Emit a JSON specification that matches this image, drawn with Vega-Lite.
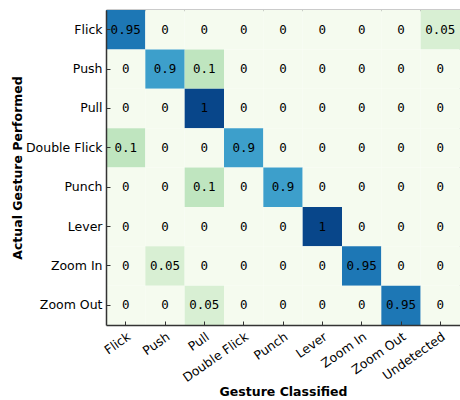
{
  "$schema": "https://vega.github.io/schema/vega-lite/v6.json",
  "width": 354,
  "height": 315,
  "autosize": "none",
  "padding": {"left": 106, "top": 10, "right": 0, "bottom": 75},
  "background": "white",
  "config": {
    "view": {"stroke": null},
    "font": "DejaVu Sans",
    "axis": {
      "labelFont": "DejaVu Sans",
      "labelFontSize": 12.5,
      "labelColor": "black",
      "titleFont": "DejaVu Sans",
      "titleFontSize": 12.5,
      "titleFontWeight": "bold",
      "titleColor": "black",
      "domainColor": "#333333",
      "domainWidth": 1.5,
      "tickColor": "#333333",
      "tickWidth": 1,
      "tickSize": -4,
      "grid": false
    }
  },
  "data": {"values": [
    {"actual": "Flick", "classified": "Flick", "value": 0.95},
    {"actual": "Flick", "classified": "Push", "value": 0},
    {"actual": "Flick", "classified": "Pull", "value": 0},
    {"actual": "Flick", "classified": "Double Flick", "value": 0},
    {"actual": "Flick", "classified": "Punch", "value": 0},
    {"actual": "Flick", "classified": "Lever", "value": 0},
    {"actual": "Flick", "classified": "Zoom In", "value": 0},
    {"actual": "Flick", "classified": "Zoom Out", "value": 0},
    {"actual": "Flick", "classified": "Undetected", "value": 0.05},
    {"actual": "Push", "classified": "Flick", "value": 0},
    {"actual": "Push", "classified": "Push", "value": 0.9},
    {"actual": "Push", "classified": "Pull", "value": 0.1},
    {"actual": "Push", "classified": "Double Flick", "value": 0},
    {"actual": "Push", "classified": "Punch", "value": 0},
    {"actual": "Push", "classified": "Lever", "value": 0},
    {"actual": "Push", "classified": "Zoom In", "value": 0},
    {"actual": "Push", "classified": "Zoom Out", "value": 0},
    {"actual": "Push", "classified": "Undetected", "value": 0},
    {"actual": "Pull", "classified": "Flick", "value": 0},
    {"actual": "Pull", "classified": "Push", "value": 0},
    {"actual": "Pull", "classified": "Pull", "value": 1},
    {"actual": "Pull", "classified": "Double Flick", "value": 0},
    {"actual": "Pull", "classified": "Punch", "value": 0},
    {"actual": "Pull", "classified": "Lever", "value": 0},
    {"actual": "Pull", "classified": "Zoom In", "value": 0},
    {"actual": "Pull", "classified": "Zoom Out", "value": 0},
    {"actual": "Pull", "classified": "Undetected", "value": 0},
    {"actual": "Double Flick", "classified": "Flick", "value": 0.1},
    {"actual": "Double Flick", "classified": "Push", "value": 0},
    {"actual": "Double Flick", "classified": "Pull", "value": 0},
    {"actual": "Double Flick", "classified": "Double Flick", "value": 0.9},
    {"actual": "Double Flick", "classified": "Punch", "value": 0},
    {"actual": "Double Flick", "classified": "Lever", "value": 0},
    {"actual": "Double Flick", "classified": "Zoom In", "value": 0},
    {"actual": "Double Flick", "classified": "Zoom Out", "value": 0},
    {"actual": "Double Flick", "classified": "Undetected", "value": 0},
    {"actual": "Punch", "classified": "Flick", "value": 0},
    {"actual": "Punch", "classified": "Push", "value": 0},
    {"actual": "Punch", "classified": "Pull", "value": 0.1},
    {"actual": "Punch", "classified": "Double Flick", "value": 0},
    {"actual": "Punch", "classified": "Punch", "value": 0.9},
    {"actual": "Punch", "classified": "Lever", "value": 0},
    {"actual": "Punch", "classified": "Zoom In", "value": 0},
    {"actual": "Punch", "classified": "Zoom Out", "value": 0},
    {"actual": "Punch", "classified": "Undetected", "value": 0},
    {"actual": "Lever", "classified": "Flick", "value": 0},
    {"actual": "Lever", "classified": "Push", "value": 0},
    {"actual": "Lever", "classified": "Pull", "value": 0},
    {"actual": "Lever", "classified": "Double Flick", "value": 0},
    {"actual": "Lever", "classified": "Punch", "value": 0},
    {"actual": "Lever", "classified": "Lever", "value": 1},
    {"actual": "Lever", "classified": "Zoom In", "value": 0},
    {"actual": "Lever", "classified": "Zoom Out", "value": 0},
    {"actual": "Lever", "classified": "Undetected", "value": 0},
    {"actual": "Zoom In", "classified": "Flick", "value": 0},
    {"actual": "Zoom In", "classified": "Push", "value": 0.05},
    {"actual": "Zoom In", "classified": "Pull", "value": 0},
    {"actual": "Zoom In", "classified": "Double Flick", "value": 0},
    {"actual": "Zoom In", "classified": "Punch", "value": 0},
    {"actual": "Zoom In", "classified": "Lever", "value": 0},
    {"actual": "Zoom In", "classified": "Zoom In", "value": 0.95},
    {"actual": "Zoom In", "classified": "Zoom Out", "value": 0},
    {"actual": "Zoom In", "classified": "Undetected", "value": 0},
    {"actual": "Zoom Out", "classified": "Flick", "value": 0},
    {"actual": "Zoom Out", "classified": "Push", "value": 0},
    {"actual": "Zoom Out", "classified": "Pull", "value": 0.05},
    {"actual": "Zoom Out", "classified": "Double Flick", "value": 0},
    {"actual": "Zoom Out", "classified": "Punch", "value": 0},
    {"actual": "Zoom Out", "classified": "Lever", "value": 0},
    {"actual": "Zoom Out", "classified": "Zoom In", "value": 0},
    {"actual": "Zoom Out", "classified": "Zoom Out", "value": 0.95},
    {"actual": "Zoom Out", "classified": "Undetected", "value": 0}
  ]},
  "layer": [
    {
      "mark": {"type": "rect"},
      "encoding": {
        "x": {
          "field": "classified", "type": "nominal",
          "sort": ["Flick", "Push", "Pull", "Double Flick", "Punch", "Lever", "Zoom In", "Zoom Out", "Undetected"],
          "scale": {"paddingInner": 0, "paddingOuter": 0},
          "axis": {"orient": "bottom", "title": "Gesture Classified", "labelAngle": -35, "labelAlign": "right", "labelBaseline": "top", "labelPadding": 9, "titleY": 66, "titleBaseline": "middle"}
        },
        "y": {
          "field": "actual", "type": "nominal",
          "sort": ["Flick", "Push", "Pull", "Double Flick", "Punch", "Lever", "Zoom In", "Zoom Out"],
          "scale": {"paddingInner": 0, "paddingOuter": 0},
          "axis": {"orient": "left", "title": "Actual Gesture Performed", "labelPadding": 8, "titleX": -89, "titleBaseline": "middle"}
        },
        "color": {
          "field": "value", "type": "quantitative",
          "scale": {"domain": [0, 0.05, 0.1, 0.9, 0.95, 1], "range": ["#f5fbef", "#d8efd3", "#bfe5bf", "#3d9fcb", "#1d77b5", "#08468a"]},
          "legend": null
        }
      }
    },
    {
      "mark": {"type": "text", "font": "DejaVu Sans Mono", "fontSize": 12.5, "color": "black"},
      "encoding": {
        "x": {
          "field": "classified", "type": "nominal",
          "sort": ["Flick", "Push", "Pull", "Double Flick", "Punch", "Lever", "Zoom In", "Zoom Out", "Undetected"],
          "axis": {"orient": "top", "title": null, "labels": false}
        },
        "y": {
          "field": "actual", "type": "nominal",
          "sort": ["Flick", "Push", "Pull", "Double Flick", "Punch", "Lever", "Zoom In", "Zoom Out"],
          "axis": {"orient": "right", "title": null, "labels": false}
        },
        "text": {"field": "value", "type": "quantitative", "format": "~g"}
      }
    }
  ],
  "resolve": {"axis": {"x": "independent", "y": "independent"}}
}
